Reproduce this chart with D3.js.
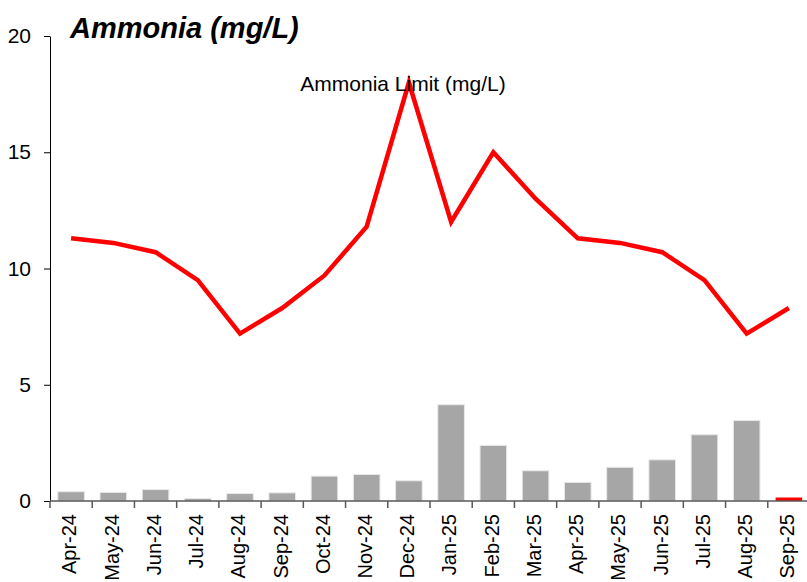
<!DOCTYPE html>
<html>
<head>
<meta charset="utf-8">
<script src="https://cdn.jsdelivr.net/npm/d3@7"></script>
<style>
  body { margin: 0; background: #fff; }
  svg { font-family: "Liberation Sans", Arial, sans-serif; }
</style>
</head>
<body>
<svg id="chart" width="807" height="582"></svg>
<script>
const months = ["Apr-24", "May-24", "Jun-24", "Jul-24", "Aug-24", "Sep-24", "Oct-24", "Nov-24", "Dec-24",
                "Jan-25", "Feb-25", "Mar-25", "Apr-25", "May-25", "Jun-25", "Jul-25", "Aug-25", "Sep-25"];
const ammonia = [0.40, 0.37, 0.49, 0.11, 0.32, 0.35, 1.07, 1.14, 0.87,
                 4.14, 2.39, 1.30, 0.80, 1.45, 1.77, 2.85, 3.46, 0.15];
const ammoniaLimit = [11.3, 11.1, 10.7, 9.5, 7.2, 8.3, 9.7, 11.8, 18.0,
                      12.0, 15.0, 13.0, 11.3, 11.1, 10.7, 9.5, 7.2, 8.3];
const yTicks = [0, 5, 10, 15, 20];
const highlightMonth = "Sep-25";

const svg = d3.select("svg#chart");
let margin = {left: 50, top: 36, bottom: 81};
let plotBottom = 582 - margin.bottom;

let x = d3.scaleBand()
    .domain(months)
    .range([margin.left, 810])
    .paddingInner(0.37)
    .paddingOuter(0.185);

let y = d3.scaleLinear()
    .domain([0, 20])
    .range([plotBottom, margin.top]);

// bars
svg.selectAll("rect.bar")
    .data(months)
    .join("rect")
    .attr("class", "bar")
    .attr("x", d => x(d))
    .attr("y", (d, i) => y(ammonia[i]))
    .attr("width", x.bandwidth())
    .attr("height", (d, i) => y(0) - y(ammonia[i]))
    .style("fill", d => d === highlightMonth ? "#ff0000" : "#a6a6a6")
    .style("stroke", d => d === highlightMonth ? "none" : "#e8e8e8")
    .style("stroke-width", 1);

// y axis
svg.append("g")
    .attr("transform", `translate(${margin.left}, 0)`)
    .call(d3.axisLeft(y).tickValues(yTicks).tickSize(6).tickPadding(13).tickSizeOuter(0))
    .call(g => g.selectAll("text").style("font-size", "21px").style("fill", "#000"))
    .call(g => g.select(".domain").style("stroke", "#000"))
    .call(g => g.selectAll(".tick line").style("stroke", "#000"));

// x axis, ticks between the categories
let xAxis = svg.append("g")
    .attr("transform", `translate(0, ${plotBottom})`);
xAxis.append("line")
    .attr("x1", margin.left).attr("x2", 810)
    .attr("y1", 0).attr("y2", 0)
    .style("stroke", "#595959").style("stroke-width", 1.5);
let step = x.step();
xAxis.selectAll("line.tick")
    .data(months)
    .join("line")
    .attr("class", "tick")
    .attr("x1", d => x(d) - step * 0.185)
    .attr("x2", d => x(d) - step * 0.185)
    .attr("y1", 0).attr("y2", 7)
    .style("stroke", "#595959").style("stroke-width", 1.5);
xAxis.selectAll("text")
    .data(months)
    .join("text")
    .attr("transform", d => `translate(${x(d) + x.bandwidth() / 2}, 13) rotate(-90)`)
    .attr("text-anchor", "end")
    .attr("dominant-baseline", "middle")
    .style("font-size", "20px")
    .style("fill", "#000")
    .text(d => d);

// limit line
let line = d3.line()
    .x((d, i) => x(months[i]) + x.bandwidth() / 2)
    .y(d => y(d));
svg.append("path")
    .datum(ammoniaLimit)
    .attr("d", line)
    .style("fill", "none")
    .style("stroke", "#ff0000")
    .style("stroke-width", 4.5)
    .style("stroke-linejoin", "miter");

svg.append("text")
    .attr("x", 403)
    .attr("y", 91)
    .attr("text-anchor", "middle")
    .style("font-size", "21px")
    .style("fill", "#000")
    .text("Ammonia Limit (mg/L)");

// title
svg.append("text")
    .attr("x", 70)
    .attr("y", 38)
    .style("font-size", "29px")
    .style("font-weight", "bold")
    .style("font-style", "italic")
    .style("fill", "#000")
    .text("Ammonia (mg/L)");
</script>
</body>
</html>
